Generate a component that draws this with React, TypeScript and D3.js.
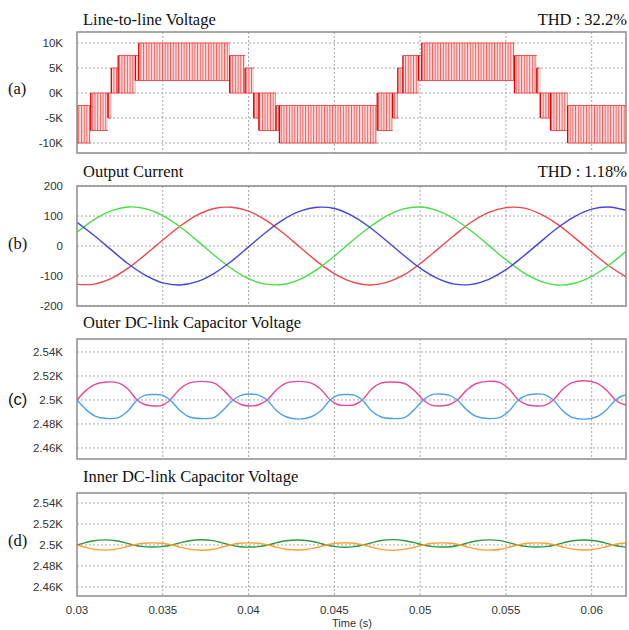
import React from 'react'
import * as d3 from 'd3'

const timeTicks = [0.03, 0.035, 0.04, 0.045, 0.05, 0.055, 0.06]
const timeTickLabels = ['0.03', '0.035', '0.04', '0.045', '0.05', '0.055', '0.06']

// (a) line-to-line voltage, switching bands: [start (s), end (s), low level (V), high level (V)]
const vllBands: [number, number, number, number][] = [
    [0.03, 0.0308, -10000, -2500],
    [0.0308, 0.0318, -7500, 0],
    [0.0318, 0.032, -5000, 0],
    [0.032, 0.0324, 0, 5000],
    [0.0324, 0.0334, 0, 7500],
    [0.0334, 0.0336, 2500, 7500],
    [0.0336, 0.0389, 2500, 10000],
    [0.0389, 0.0398, 0, 7500],
    [0.0398, 0.0403, 0, 5000],
    [0.0403, 0.0406, -5000, 0],
    [0.0406, 0.0416, -7500, 0],
    [0.0416, 0.0418, -7500, -2500],
    [0.0418, 0.0475, -10000, -2500],
    [0.0475, 0.0484, -7500, 0],
    [0.0484, 0.0487, -5000, 0],
    [0.0487, 0.049, 0, 5000],
    [0.049, 0.0499, 0, 7500],
    [0.0499, 0.0501, 2500, 7500],
    [0.0501, 0.0555, 2500, 10000],
    [0.0555, 0.0568, 0, 7500],
    [0.0568, 0.057, 0, 5000],
    [0.057, 0.0576, -5000, 0],
    [0.0576, 0.0586, -7500, 0],
    [0.0586, 0.062, -10000, -2500]
]
const vllTicks = [10000, 5000, 0, -5000, -10000]
const vllTickLabels = ['10K', '5K', '0K', '-5K', '-10K']

// (b) output current, sampled every 1 ms
const currentTime = [
    0.03, 0.031, 0.032, 0.033, 0.034, 0.035, 0.036, 0.037, 0.038, 0.039, 0.04, 0.041, 0.042, 0.043, 0.044, 0.045, 0.046,
    0.047, 0.048, 0.049, 0.05, 0.051, 0.052, 0.053, 0.054, 0.055, 0.056, 0.057, 0.058, 0.059, 0.06, 0.061, 0.062
]
const currentRed = [
    -128, -127, -108, -73, -28, 20, 66, 103, 125, 129, 116, 86, 44, -4, -52, -92, -119, -130, -122, -98, -59, -12, 36,
    80, 112, 128, 127, 107, 73, 28, -20, -66, -103
]
const currentGreen = [
    46, 88, 117, 130, 124, 101, 64, 18, -31, -75, -109, -127, -128, -111, -78, -34, 15, 61, 99, 123, 130, 118, 90, 49, 2,
    -46, -88, -117, -130, -124, -101, -64, -18
]
const currentBlue = [
    79, 35, -13, -60, -98, -123, -130, -119, -91, -51, -3, 45, 87, 116, 129, 125, 102, 65, 19, -29, -74, -108, -127, -128,
    -111, -79, -35, 13, 60, 98, 123, 130, 119
]
const currentTicks = [200, 100, 0, -100, -200]
const currentTickLabels = ['200', '100', '0', '-100', '-200']

// (c) outer DC-link capacitor voltages
const outerTime = [
    0.03, 0.03053, 0.03105, 0.03175, 0.03245, 0.03298, 0.0335, 0.03398, 0.03447, 0.03495, 0.03543, 0.03598, 0.03653,
    0.03727, 0.038, 0.03855, 0.0391, 0.0396, 0.04009, 0.04059, 0.04108, 0.04163, 0.04218, 0.04292, 0.04366, 0.04421,
    0.04476, 0.04523, 0.0457, 0.04616, 0.04663, 0.04716, 0.0477, 0.04841, 0.04912, 0.04966, 0.05019, 0.05069, 0.05118,
    0.05168, 0.05217, 0.0527, 0.05324, 0.05395, 0.05466, 0.0552, 0.05573, 0.05624, 0.05675, 0.05726, 0.05777, 0.05831,
    0.05886, 0.05958, 0.0603, 0.06084, 0.06139, 0.0618, 0.062
]
const outerPink = [
    2500, 2508, 2513, 2515, 2514, 2509, 2500, 2496, 2495, 2495.5, 2500, 2509, 2514, 2515.5, 2514, 2508, 2500, 2496,
    2495, 2496, 2500, 2508.5, 2514, 2515.5, 2514, 2509, 2500, 2496, 2495.5, 2496, 2500, 2509, 2514, 2515, 2513.5, 2508,
    2500, 2495.5, 2495, 2496, 2500, 2508, 2513.5, 2515.5, 2514.5, 2509, 2500, 2496, 2495, 2495.5, 2500, 2509, 2514.5,
    2516, 2514, 2508.5, 2500, 2496.5, 2496
]
const outerBlue = [
    2500, 2492, 2486.5, 2484.5, 2485.5, 2491, 2500, 2504, 2504.5, 2504, 2500, 2491.5, 2486, 2484.5, 2485.5, 2492, 2500,
    2504, 2505, 2504, 2500, 2491, 2486, 2484, 2486, 2491, 2500, 2504, 2504.5, 2504, 2500, 2491, 2486, 2484.5, 2485.5,
    2492, 2500, 2504.5, 2505, 2504, 2500, 2492, 2486.5, 2484.5, 2485.5, 2491, 2500, 2504, 2505, 2504.5, 2500, 2491, 2485.5,
    2484, 2486, 2491.5, 2500, 2503.5, 2504
]

// (d) inner DC-link capacitor voltages
const innerTime = [
    0.03, 0.03049, 0.03098, 0.03164, 0.03229, 0.03278, 0.03327, 0.03384, 0.03441, 0.03497, 0.03554, 0.03605, 0.03656,
    0.03724, 0.03791, 0.03842, 0.03893, 0.03948, 0.04004, 0.04059, 0.04114, 0.04165, 0.04216, 0.04284, 0.04351, 0.04402,
    0.04453, 0.04507, 0.04561, 0.04615, 0.04669, 0.04722, 0.04774, 0.04844, 0.04914, 0.04967, 0.05019, 0.05073, 0.05127,
    0.0518, 0.05234, 0.05284, 0.05334, 0.05401, 0.05467, 0.05517, 0.05567, 0.05623, 0.05678, 0.05734, 0.05789, 0.05839,
    0.05889, 0.05955, 0.06021, 0.06071, 0.06121, 0.06175, 0.062
]
const innerGreen = [
    2500, 2502.2, 2504, 2504.9, 2504, 2502.2, 2500, 2498.4, 2498, 2498.4, 2500, 2502.3, 2504, 2505, 2504.1, 2502.2, 2500,
    2498.3, 2498, 2498.4, 2500, 2502.2, 2504, 2504.8, 2504, 2502.3, 2500, 2498.4, 2497.9, 2498.4, 2500, 2502.3, 2504.2,
    2505.1, 2504, 2502.2, 2500, 2498.4, 2498, 2498.3, 2500, 2502.2, 2504, 2504.9, 2504.1, 2502.2, 2500, 2498.4, 2498,
    2498.4, 2500, 2502.3, 2504, 2504.8, 2504, 2502.3, 2500, 2498.4, 2498.1
]
const innerOrange = [
    2500, 2497.8, 2496, 2495.1, 2496, 2497.8, 2500, 2501.6, 2502, 2501.6, 2500, 2497.7, 2496, 2495, 2495.9, 2497.8, 2500,
    2501.7, 2502, 2501.6, 2500, 2497.8, 2496, 2495.2, 2496, 2497.7, 2500, 2501.6, 2502.1, 2501.6, 2500, 2497.7, 2495.8,
    2494.9, 2496, 2497.8, 2500, 2501.6, 2502, 2501.7, 2500, 2497.8, 2496, 2495.1, 2495.9, 2497.8, 2500, 2501.6, 2502,
    2501.6, 2500, 2497.7, 2496, 2495.2, 2496, 2497.7, 2500, 2501.6, 2501.9
]
const dcTicks = [2540, 2520, 2500, 2480, 2460]
const dcTickLabels = ['2.54K', '2.52K', '2.5K', '2.48K', '2.46K']

const X0 = 77
const X1 = 626
const serif = "'Liberation Serif', 'Times New Roman', serif"
const sans = "'Liberation Sans', Arial, sans-serif"

interface PanelProps {
    id: string
    y: d3.ScaleLinear<number, number>
    ticks: number[]
    labels: string[]
    title: string
    titleY: number
    tag: string
    tagY: number
    tagFont?: string
    thd?: string
    children: React.ReactNode
}

const x = d3.scaleLinear().domain([0.03, 0.062]).range([X0, X1])

const Panel: React.FC<PanelProps> = ({ id, y, ticks, labels, title, titleY, tag, tagY, tagFont, thd, children }) => {
    const [bottom, top] = y.range()
    return (
        <g>
            <defs>
                <clipPath id={'clip-' + id}>
                    <rect x={X0} y={top} width={X1 - X0} height={bottom - top} />
                </clipPath>
            </defs>
            {/* grid */}
            {ticks.map((t) => (
                <line
                    key={'h' + t}
                    x1={X0}
                    x2={X1}
                    y1={y(t)}
                    y2={y(t)}
                    stroke="#a8a8a8"
                    strokeWidth={1}
                    strokeDasharray="2,2"
                />
            ))}
            {timeTicks.slice(1).map((t) => (
                <line
                    key={'v' + t}
                    x1={x(t)}
                    x2={x(t)}
                    y1={top}
                    y2={bottom}
                    stroke="#a8a8a8"
                    strokeWidth={1}
                    strokeDasharray="2,2"
                />
            ))}
            <g clipPath={`url(#clip-${id})`}>{children}</g>
            <rect x={X0} y={top} width={X1 - X0} height={bottom - top} fill="none" stroke="#8c8c8c" strokeWidth={1.5} />
            {ticks.map((t, i) => (
                <text
                    key={'l' + t}
                    x={63}
                    y={y(t)}
                    dy="0.36em"
                    textAnchor="end"
                    fontFamily={sans}
                    fontSize={11.5}
                    fill="#333"
                >
                    {labels[i]}
                </text>
            ))}
            <text x={83} y={titleY} fontFamily={serif} fontSize={16.5} fill="#111">
                {title}
            </text>
            {thd && (
                <text x={627} y={titleY} textAnchor="end" fontFamily={serif} fontSize={16.5} fill="#111">
                    {thd}
                </text>
            )}
            <text x={8} y={tagY} fontFamily={tagFont || serif} fontSize={16.5} fill="#111">
                {tag}
            </text>
        </g>
    )
}

export default function App() {
    const yA = d3.scaleLinear().domain([-12000, 12200]).range([153, 32])
    const yB = d3.scaleLinear().domain([-200, 200]).range([306, 186])
    const yC = d3.scaleLinear().domain([2450.8, 2550.8]).range([459, 339])
    const yD = d3.scaleLinear().domain([2451.4, 2549.5]).range([596, 493])

    const path = (ys: d3.ScaleLinear<number, number>, ts: number[], vs: number[], curve: d3.CurveFactory) =>
        d3
            .line<number>()
            .x((_, i) => x(ts[i]))
            .y((d) => ys(d))
            .curve(curve)(vs) || ''

    return (
        <svg width={629} height={630} style={{ position: 'absolute', left: 0, top: 0, background: '#fff' }}>
            <defs>
                <pattern id="pwm" width={2.7} height={10} patternUnits="userSpaceOnUse">
                    <rect width={2.7} height={10} fill="#fde2e2" />
                    <rect x={0} width={1} height={10} fill="#f55a5a" />
                </pattern>
            </defs>
            <rect width={629} height={630} fill="#fff" />

            <Panel
                id="a"
                y={yA}
                ticks={vllTicks}
                labels={vllTickLabels}
                title="Line-to-line Voltage"
                titleY={25}
                tag="(a)"
                tagY={94}
                thd="THD : 32.2%"
            >
                {vllBands.map(([t0, t1, lo, hi], i) => (
                    <g key={i}>
                        <rect x={x(t0)} width={x(t1) - x(t0)} y={yA(hi)} height={yA(lo) - yA(hi)} fill="url(#pwm)" />
                        <line x1={x(t0)} x2={x(t1)} y1={yA(hi)} y2={yA(hi)} stroke="#f03030" strokeWidth={0.8} />
                        <line x1={x(t0)} x2={x(t1)} y1={yA(lo)} y2={yA(lo)} stroke="#f03030" strokeWidth={0.8} />
                        <line x1={x(t0)} x2={x(t0)} y1={yA(hi)} y2={yA(lo)} stroke="#e00000" strokeWidth={1.3} />
                    </g>
                ))}
            </Panel>

            <Panel
                id="b"
                y={yB}
                ticks={currentTicks}
                labels={currentTickLabels}
                title="Output Current"
                titleY={177}
                tag="(b)"
                tagY={249}
                thd="THD : 1.18%"
            >
                <path d={path(yB, currentTime, currentRed, d3.curveCatmullRom)} fill="none" stroke="#ee4848" strokeWidth={1.4} />
                <path d={path(yB, currentTime, currentGreen, d3.curveCatmullRom)} fill="none" stroke="#44e044" strokeWidth={1.4} />
                <path d={path(yB, currentTime, currentBlue, d3.curveCatmullRom)} fill="none" stroke="#4646e0" strokeWidth={1.4} />
            </Panel>

            <Panel
                id="c"
                y={yC}
                ticks={dcTicks}
                labels={dcTickLabels}
                title="Outer DC-link Capacitor Voltage"
                titleY={328}
                tag="(c)"
                tagY={405}
                tagFont={sans}
            >
                <path d={path(yC, outerTime, outerPink, d3.curveCatmullRom)} fill="none" stroke="#e8489a" strokeWidth={1.4} />
                <path d={path(yC, outerTime, outerBlue, d3.curveCatmullRom)} fill="none" stroke="#4aa2ee" strokeWidth={1.4} />
            </Panel>

            <Panel
                id="d"
                y={yD}
                ticks={dcTicks}
                labels={dcTickLabels}
                title="Inner DC-link Capacitor Voltage"
                titleY={482}
                tag="(d)"
                tagY={546}
            >
                <path d={path(yD, innerTime, innerGreen, d3.curveCatmullRom)} fill="none" stroke="#2f9a3c" strokeWidth={1.4} />
                <path d={path(yD, innerTime, innerOrange, d3.curveCatmullRom)} fill="none" stroke="#ffa033" strokeWidth={1.4} />
            </Panel>

            {timeTicks.map((t, i) => (
                <text key={t} x={x(t)} y={614} textAnchor="middle" fontFamily={sans} fontSize={11.5} fill="#333">
                    {timeTickLabels[i]}
                </text>
            ))}
            <text x={352} y={627} textAnchor="middle" fontFamily={sans} fontSize={11} fill="#333">
                Time (s)
            </text>
        </svg>
    )
}
